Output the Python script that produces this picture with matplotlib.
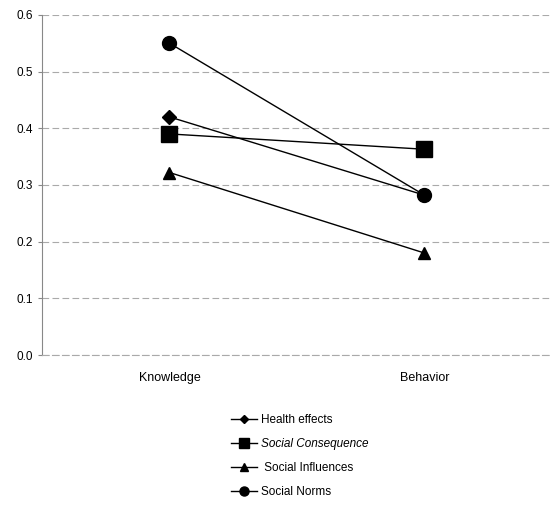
import matplotlib
matplotlib.use("Agg")
import matplotlib.pyplot as plt

categories = ["Knowledge", "Behavior"]
health_effects = [0.42, 0.282]
social_consequence = [0.39, 0.363]
social_influences = [0.322, 0.18]
social_norms = [0.55, 0.282]
yticks = [0.0, 0.1, 0.2, 0.3, 0.4, 0.5, 0.6]

fig = plt.figure(figsize=(5.52, 5.11), dpi=100)
ax = fig.add_axes([0.076, 0.305, 0.924, 0.666])

x = [0.5, 1.5]
series = [
    ("Health effects", health_effects, "D", 7),
    ("Social Consequence", social_consequence, "s", 11),
    (" Social Influences", social_influences, "^", 9),
    ("Social Norms", social_norms, "o", 10),
]
for name, vals, m, ms in series:
    ax.plot(x, vals, color="black", lw=1.0, marker=m, markersize=ms, label=name)

ax.set_xlim(0, 2)
ax.set_ylim(0, 0.6)
ax.set_yticks(yticks)
ax.set_yticklabels([f"{v:.1f}" for v in yticks], fontsize=8.5, family="Liberation Sans")
ax.set_xticks(x)
ax.set_xticklabels(categories, fontsize=9, family="Liberation Sans")
ax.tick_params(axis="x", length=0, pad=12)
ax.tick_params(axis="y", length=3, color="#888888")
ax.yaxis.grid(True, color="#aaaaaa", linestyle=(0, (6, 3)), lw=0.8)
for s in ["top", "right"]:
    ax.spines[s].set_visible(False)
ax.spines["left"].set_color("#888888")
ax.spines["bottom"].set_color("#aaaaaa")
ax.spines["bottom"].set_linestyle((0, (6, 3)))

leg = fig.legend(loc="upper left", bbox_to_anchor=(0.40, 0.21), frameon=False,
                 prop={"family": "Liberation Sans", "size": 8.5},
                 labelspacing=1.0, handlelength=2.2, handletextpad=0.3,
                 markerscale=0.65)
for t in leg.get_texts():
    if "Consequence" in t.get_text():
        t.set_fontstyle("italic")
fig.savefig("out.png", dpi=100, facecolor="white")
